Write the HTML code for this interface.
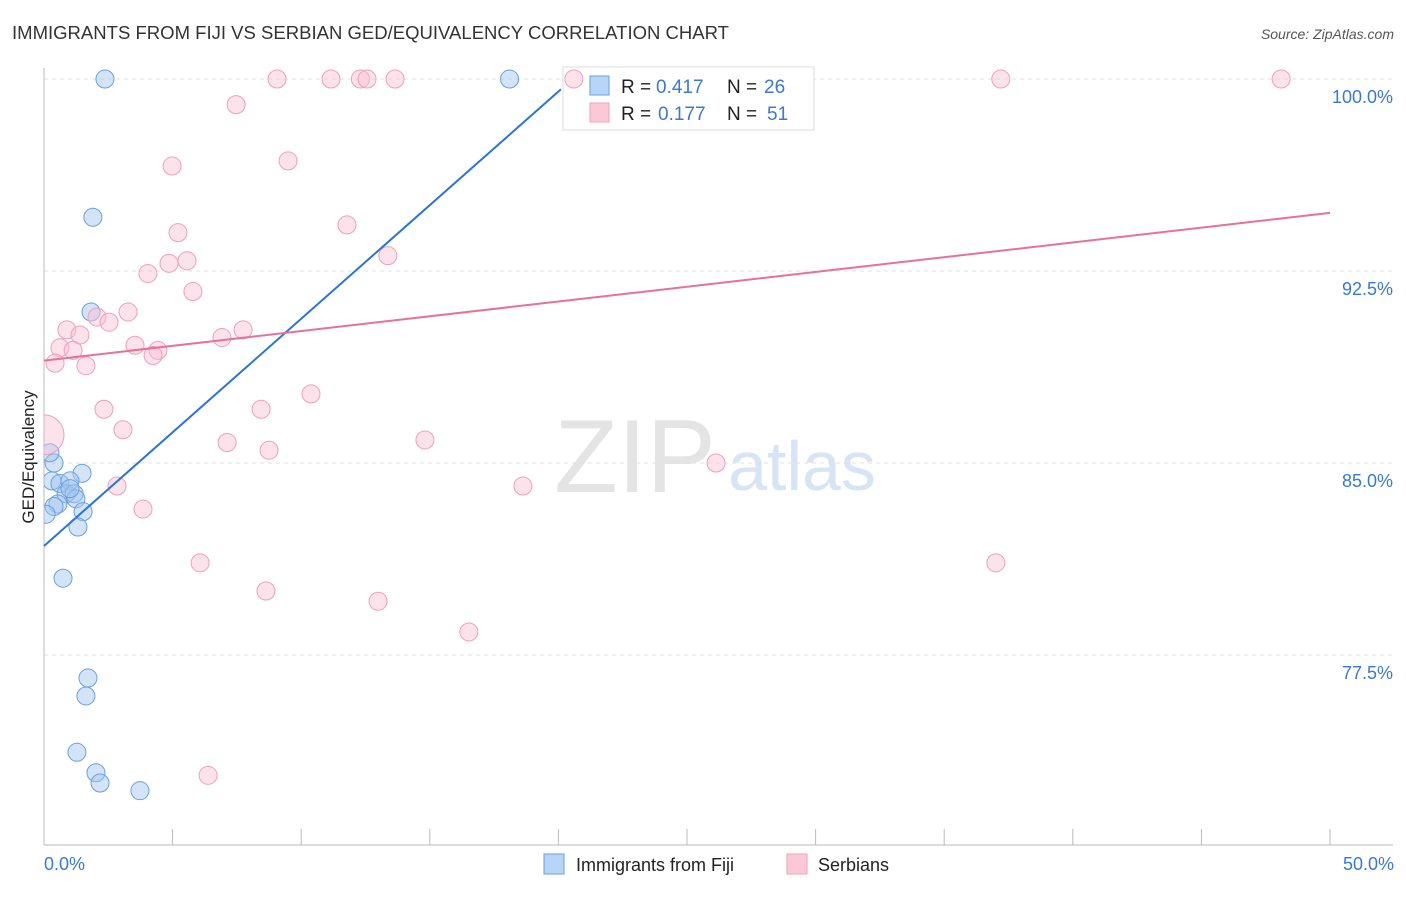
<!DOCTYPE html>
<html><head><meta charset="utf-8"><style>
body{margin:0;background:#fff;font-family:"Liberation Sans",sans-serif;}
svg text{font-family:"Liberation Sans",sans-serif;}
</style></head><body>
<svg id="chart" width="1406" height="892">
<defs><clipPath id="plotclip"><rect x="44" y="60" width="1360" height="786"/></clipPath></defs>
<text x="12" y="39" font-size="18" fill="#333" textLength="717" lengthAdjust="spacingAndGlyphs">IMMIGRANTS FROM FIJI VS SERBIAN GED/EQUIVALENCY CORRELATION CHART</text>
<text x="1394" y="39" font-size="14" fill="#555" font-style="italic" text-anchor="end">Source: ZipAtlas.com</text>
<text x="635" y="492" font-size="104" fill="#e4e4e4" font-family="Liberation Serif" text-anchor="middle">ZIP</text>
<text x="802" y="490" font-size="70" fill="#d6e4f5" text-anchor="middle">atlas</text>
<g id="grid"></g><g id="axes"></g>
<g>
<rect x="563" y="67" width="251" height="63" fill="#fff" stroke="#ddd"/>
<rect x="590" y="76" width="19" height="19" fill="#b8d4f6" stroke="#6a9fe0"/>
<rect x="590" y="103" width="19" height="19" fill="#fbc8d8" stroke="#f0a0b8"/>
<text x="621" y="93" font-size="19" fill="#222">R =</text>
<text x="656" y="93" font-size="19" fill="#3a78d6">0.417</text>
<text x="727" y="93" font-size="19" fill="#222">N =</text>
<text x="764" y="93" font-size="19" fill="#3a78d6">26</text>
<text x="621" y="120" font-size="19" fill="#222">R =</text>
<text x="658" y="120" font-size="19" fill="#3a78d6">0.177</text>
<text x="727" y="120" font-size="19" fill="#222">N =</text>
<text x="767" y="120" font-size="19" fill="#3a78d6">51</text>
</g>
<g id="pts" clip-path="url(#plotclip)"></g><g id="lines"></g>
<text transform="translate(34,457) rotate(-90)" font-size="17" fill="#222" text-anchor="middle">GED/Equivalency</text>
<text x="44" y="870" font-size="18" fill="#3a78d6">0.0%</text>
<text x="1394" y="870" font-size="18" fill="#3a78d6" text-anchor="end">50.0%</text>
<g>
<rect x="544" y="854" width="20" height="20" fill="#b8d4f6" stroke="#6a9fe0"/>
<text x="576" y="871" font-size="18" fill="#222">Immigrants from Fiji</text>
<rect x="787" y="854" width="20" height="20" fill="#fbc8d8" stroke="#f0a0b8"/>
<text x="818" y="871" font-size="18" fill="#222">Serbians</text>
</g>
</svg>
<script>
const fijiX=[2.37,18.1,1.9,1.83,0.39,1.48,0.23,0.31,0.62,1.01,0.86,1.17,1.24,0.54,0.39,0.08,1.52,1.32,0.74,1.71,1.63,1.28,2.02,2.18,3.73,1.01];
const fijiY=[100,100,94.6,90.9,85.0,84.6,85.4,84.3,84.2,84.3,83.8,83.8,83.6,83.4,83.3,83.0,83.1,82.5,80.5,76.6,75.9,73.7,72.9,72.5,72.2,84.0];
const serbX=[20.6,9.06,11.16,12.3,12.56,13.65,37.2,48.1,7.47,4.98,9.49,11.78,5.21,13.37,4.04,4.86,5.56,5.79,2.06,3.27,2.53,0.89,1.40,6.92,7.74,3.54,0.62,1.13,4.43,4.24,0.43,1.63,10.38,2.33,8.44,3.07,0,7.12,8.75,14.81,26.13,2.84,18.62,3.85,6.07,37.01,8.63,12.99,16.52,6.38];
const serbY=[100,100,100,100,100,100,100,100,99.0,96.6,96.8,94.3,94.0,93.1,92.4,92.8,92.9,91.7,90.7,90.9,90.5,90.2,90.0,89.9,90.2,89.6,89.5,89.4,89.4,89.2,88.9,88.8,87.7,87.1,87.1,86.3,86.1,85.8,85.5,85.9,85.0,84.1,84.1,83.2,81.1,81.1,80.0,79.6,78.4,72.8];
const fijiTrend=[[0,81.76],[20.1,99.6]];
const serbTrend=[[0,89.0],[50,94.77]];
const yTicks=[100,92.5,85,77.5];
const yTickLabels=["100.0%","92.5%","85.0%","77.5%"];
const xTicks=[0,5,10,15,20,25,30,35,40,45,50];
const sx=v=>44+v*25.72, sy=v=>79+(100-v)*25.6;
const NS="http://www.w3.org/2000/svg";
function mk(tag,attrs,parent){const e=document.createElementNS(NS,tag);for(const k in attrs)e.setAttribute(k,attrs[k]);document.getElementById(parent).appendChild(e);return e;}
yTicks.forEach((t,i)=>{
 const l=mk('line',{x1:44,x2:1393,y1:sy(t),y2:sy(t),stroke:'#e2e2e2','stroke-dasharray':'4,4'},'grid');
 
 
 const tx=mk('text',{x:1393,y:sy(t)+24,'font-size':18,fill:'#3a78d6','text-anchor':'end'},'grid');
 tx.textContent=yTickLabels[i];
 
 
});
const ax=mk('line',{x1:44,x2:44,y1:68,y2:845,stroke:'#bbb'},'axes');


const bx=mk('line',{x1:44,x2:1393,y1:845,y2:845,stroke:'#bbb'},'axes');


xTicks.forEach(t=>{const l=mk('line',{x1:sx(t),x2:sx(t),y1:829,y2:845,stroke:'#bbb'},'axes');
 
 });
fijiX.forEach((x,i)=>{const c=mk('circle',{cx:sx(x),cy:sy(fijiY[i]),r:9,fill:'rgba(160,196,240,0.45)',stroke:'#6a9fe0','stroke-width':1},'pts');
 
 });
serbX.forEach((x,i)=>{const c=mk('circle',{cx:sx(x),cy:sy(serbY[i]),r:(i==36?20:9),fill:'rgba(248,190,210,0.45)',stroke:'#f0a0b8','stroke-width':1},'pts');
 
 });
const fl=mk('line',{x1:sx(fijiTrend[0][0]),y1:sy(fijiTrend[0][1]),x2:sx(fijiTrend[1][0]),y2:sy(fijiTrend[1][1]),stroke:'#2a74d9','stroke-width':2},'lines');


const pl=mk('line',{x1:sx(serbTrend[0][0]),y1:sy(serbTrend[0][1]),x2:sx(serbTrend[1][0]),y2:sy(serbTrend[1][1]),stroke:'#e8709a','stroke-width':2},'lines');


</script>
</body></html>
